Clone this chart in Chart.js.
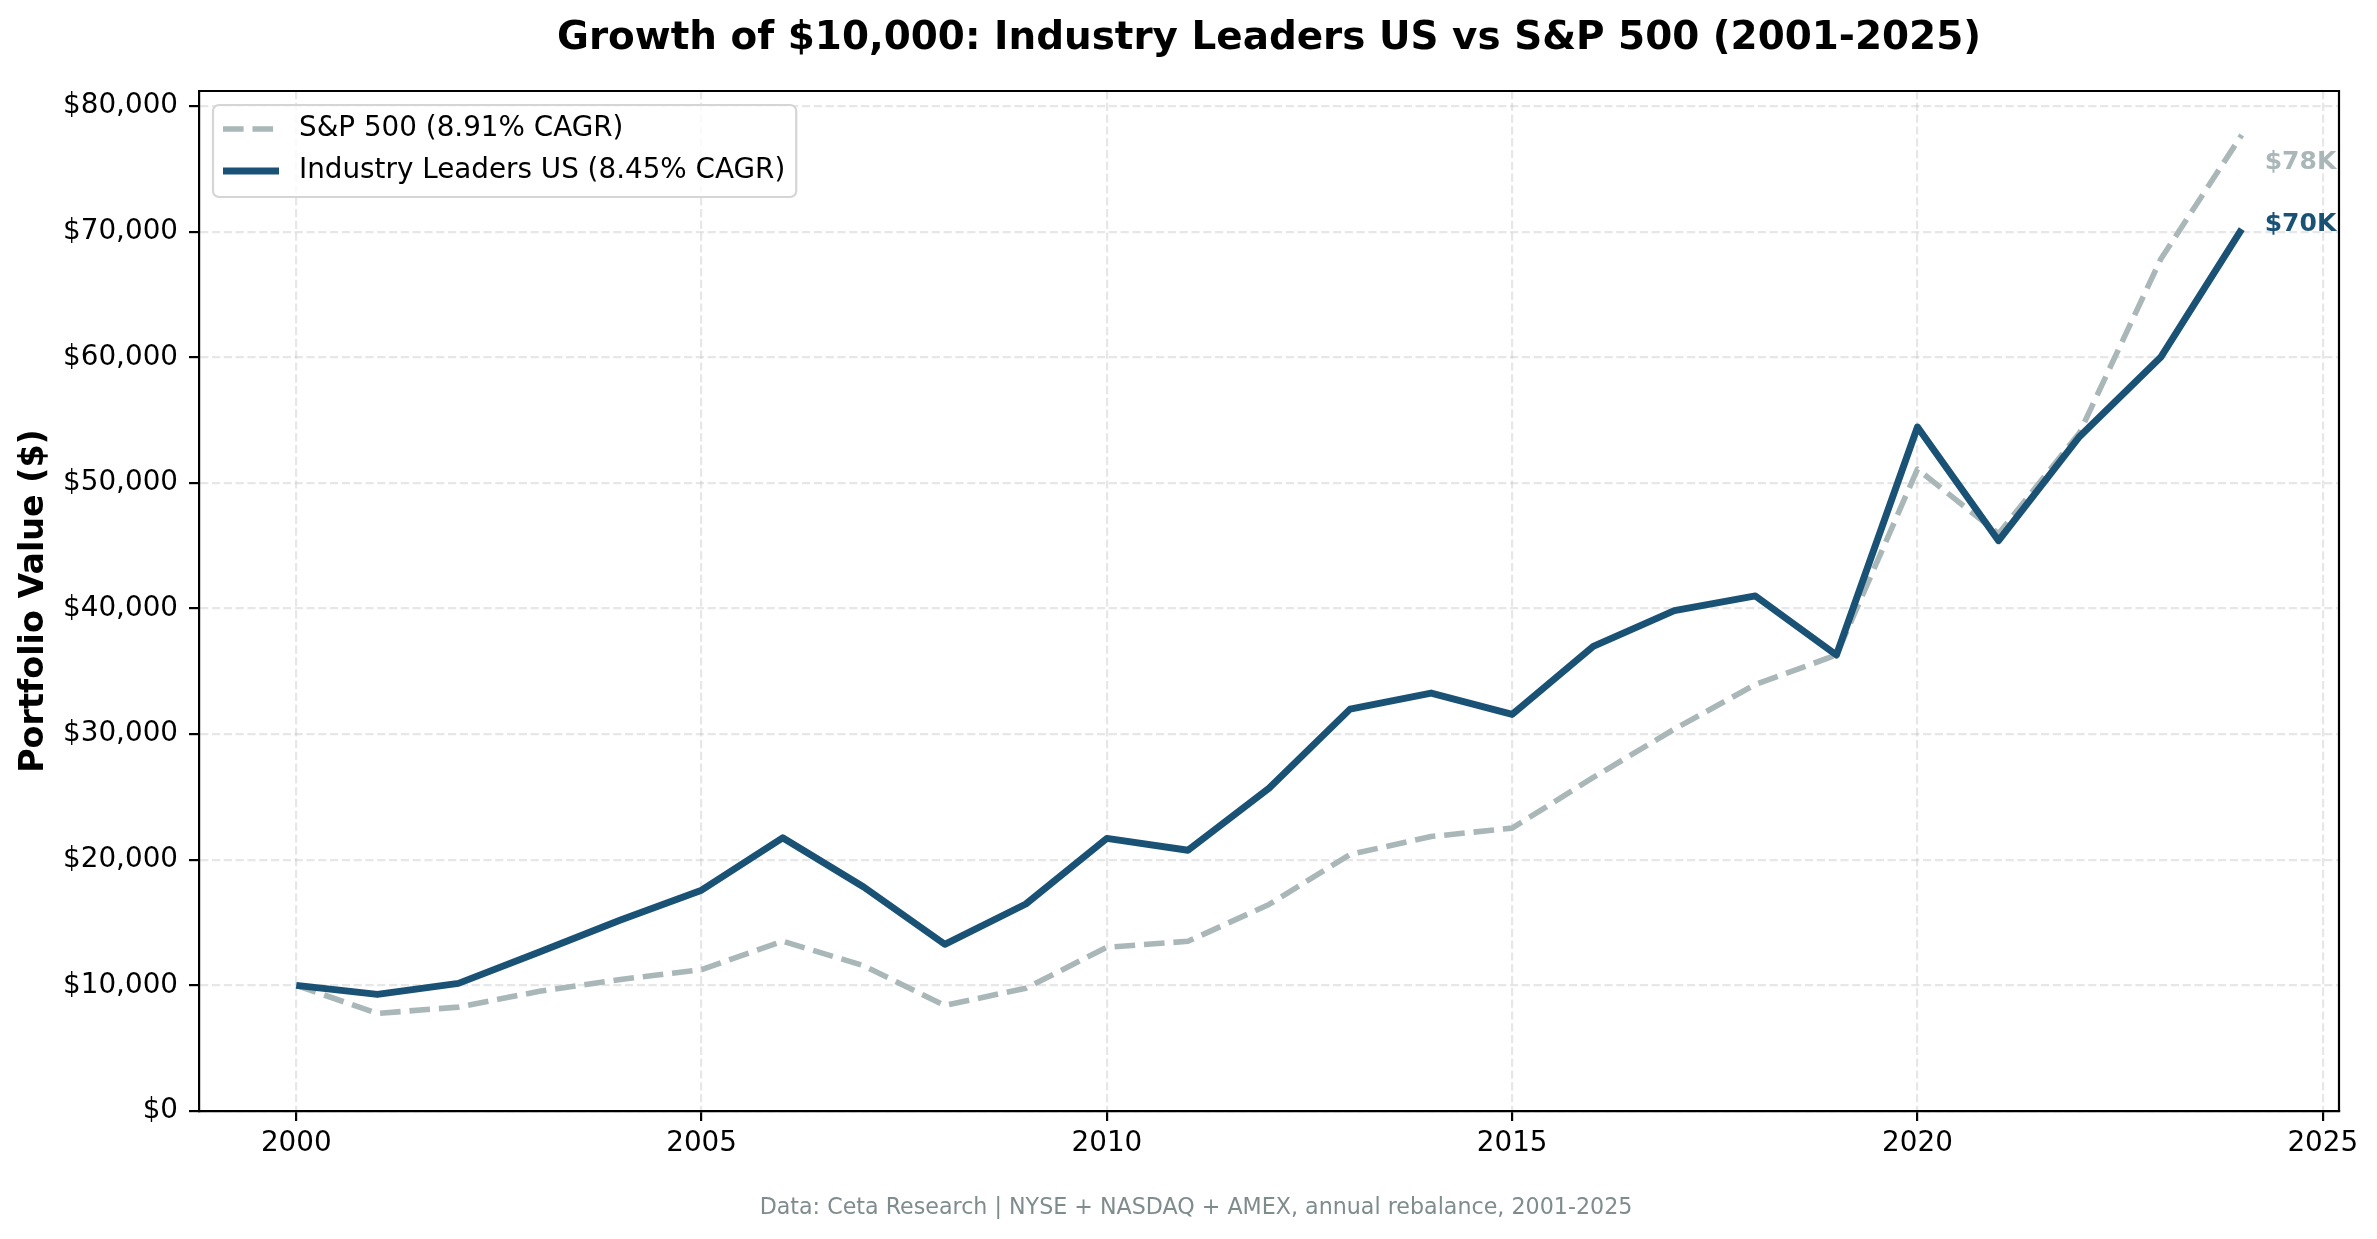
<!DOCTYPE html>
<html lang="en">

<head>
    <meta charset="UTF-8">
    <title>Growth of $10,000</title>
    <style>
        body {
            margin: 0;
            background: #ffffff;
        }

        #wrap {
            width: 2377px;
            height: 1239px;
        }
    </style>
    <script src="https://cdn.jsdelivr.net/npm/chart.js"></script>
</head>

<body>
    <div id="wrap"><canvas id="growth"></canvas></div>

    <script>
        // Years and portfolio values
        const years = [2000, 2001, 2002, 2003, 2004, 2005, 2006, 2007, 2008, 2009, 2010, 2011, 2012,
            2013, 2014, 2015, 2016, 2017, 2018, 2019, 2020, 2021, 2022, 2023, 2024];
        const leaders = [10000, 9280, 10160, 12650, 15200, 17580, 21750, 17830, 13270, 16480, 21700, 20760, 25690,
            31990, 33270, 31570, 36980, 39840, 41000, 36300, 54450, 45400, 53700, 60000, 70200];
        const sp500 = [10000, 7770, 8270, 9530, 10470, 11260, 13520, 11570, 8400, 9780, 13030, 13510, 16440,
            20420, 21850, 22520, 26550, 30400, 33950, 36300, 51100, 45950, 54000, 67800, 77700];

        const seriesNames = ["S&P 500 (8.91% CAGR)", "Industry Leaders US (8.45% CAGR)"];
        const xTicks = [2000, 2005, 2010, 2015, 2020, 2025];
        const yTicks = [0, 10000, 20000, 30000, 40000, 50000, 60000, 70000, 80000];

        const chartTitle = "Growth of $10,000: Industry Leaders US vs S&P 500 (2001-2025)";
        const footnote = "Data: Ceta Research | NYSE + NASDAQ + AMEX, annual rebalance, 2001-2025";

        const FONT = "'DejaVu Sans', 'Liberation Sans', sans-serif";
        const BLUE = "#1a5276";
        const GREY = "#aab7b8";

        function toPoints(vals) {
            return years.map((yr, i) => ({ x: yr, y: vals[i] }));
        }

        // legend box, end labels, full frame and footnote
        const extras = {
            id: "extras",
            afterDatasetsDraw(chart) {
                const { ctx, chartArea } = chart;
                const xs = chart.scales.x;
                const ys = chart.scales.y;

                // end labels
                ctx.save();
                ctx.font = "bold 25px " + FONT;
                ctx.textAlign = "left";
                ctx.textBaseline = "middle";
                const lastX = xs.getPixelForValue(years[years.length - 1]) + 23;
                ctx.fillStyle = GREY;
                ctx.fillText("$" + Math.round(sp500[sp500.length - 1] / 1000) + "K", lastX,
                    ys.getPixelForValue(sp500[sp500.length - 1]) + 28);
                ctx.fillStyle = BLUE;
                ctx.fillText("$" + Math.round(leaders[leaders.length - 1] / 1000) + "K", lastX,
                    ys.getPixelForValue(leaders[leaders.length - 1]) - 5);
                ctx.restore();

                // legend
                ctx.save();
                ctx.font = "27.8px " + FONT;
                const pad = 10, handle = 56, gap = 20, rowH = 42;
                const textW = Math.max(...seriesNames.map(t => ctx.measureText(t).width));
                const bx = chartArea.left + 14;
                const by = chartArea.top + 14;
                const bw = pad + handle + gap + textW + pad + 1;
                const bh = 92;
                ctx.beginPath();
                ctx.roundRect(bx, by, bw, bh, 6);
                ctx.fillStyle = "rgba(255,255,255,0.8)";
                ctx.fill();
                ctx.strokeStyle = "#d5d5d5";
                ctx.lineWidth = 2.2;
                ctx.stroke();

                const styles = [
                    { color: GREY, width: 5.6, dash: [20.6, 8.9] },
                    { color: BLUE, width: 6.9, dash: [] }
                ];
                seriesNames.forEach((name, i) => {
                    const cy = by + 24 + i * rowH;
                    ctx.beginPath();
                    ctx.setLineDash(styles[i].dash);
                    ctx.strokeStyle = styles[i].color;
                    ctx.lineWidth = styles[i].width;
                    ctx.lineCap = "butt";
                    ctx.moveTo(bx + pad, cy);
                    ctx.lineTo(bx + pad + handle, cy);
                    ctx.stroke();
                    ctx.setLineDash([]);
                    ctx.fillStyle = "#000000";
                    ctx.textAlign = "left";
                    ctx.textBaseline = "middle";
                    ctx.fillText(name, bx + pad + handle + gap, cy);
                });
                ctx.restore();
            },
            afterDraw(chart) {
                const { ctx, chartArea } = chart;
                ctx.save();
                // top and right spines
                ctx.strokeStyle = "#000000";
                ctx.lineWidth = 2.2;
                ctx.beginPath();
                ctx.moveTo(chartArea.left, chartArea.top);
                ctx.lineTo(chartArea.right, chartArea.top);
                ctx.lineTo(chartArea.right, chartArea.bottom);
                ctx.stroke();

                ctx.font = "22.2px " + FONT;
                ctx.fillStyle = "#7f8c8d";
                ctx.textAlign = "center";
                ctx.textBaseline = "middle";
                ctx.fillText(footnote, 1196, 1208);
                ctx.restore();
            }
        };

        const gridOpts = {
            color: "rgba(176,176,176,0.3)",
            lineWidth: 2.2,
            drawTicks: true,
            tickLength: 10,
            tickColor: "#000000",
            tickWidth: 2.2
        };
        const borderOpts = { color: "#000000", width: 2.2, dash: [8.2, 3.6] };

        new Chart(document.getElementById("growth"), {
            type: "line",
            data: {
                datasets: [
                    {
                        label: seriesNames[0],
                        data: toPoints(sp500),
                        borderColor: GREY,
                        borderWidth: 5.6,
                        borderDash: [20.6, 8.9],
                        borderJoinStyle: "round",
                        pointRadius: 0,
                        tension: 0,
                        order: 1
                    },
                    {
                        label: seriesNames[1],
                        data: toPoints(leaders),
                        borderColor: BLUE,
                        borderWidth: 6.9,
                        borderJoinStyle: "round",
                        pointRadius: 0,
                        tension: 0,
                        order: 0
                    }
                ]
            },
            options: {
                responsive: true,
                maintainAspectRatio: false,
                devicePixelRatio: 1,
                animation: false,
                events: [],
                layout: { padding: { top: 0, right: 38, bottom: 0, left: 0 } },
                plugins: {
                    legend: { display: false },
                    tooltip: { enabled: false },
                    title: {
                        display: true,
                        fullSize: false,
                        text: chartTitle,
                        color: "#000000",
                        font: { family: FONT, size: 38.9, weight: "bold" },
                        padding: { top: 16, bottom: 28.3 }
                    }
                },
                scales: {
                    x: {
                        type: "linear",
                        min: 1998.8,
                        max: 2025.2,
                        afterBuildTicks: scale => {
                            scale.ticks = xTicks.map(v => ({ value: v }));
                        },
                        afterFit: scale => {
                            scale.height = 128;
                            scale.paddingLeft = 0;
                            scale.paddingRight = 0;
                        },
                        ticks: {
                            color: "#000000",
                            padding: 6,
                            maxRotation: 0,
                            font: { family: FONT, size: 27.8 },
                            callback: v => String(v)
                        },
                        grid: gridOpts,
                        border: borderOpts
                    },
                    y: {
                        type: "linear",
                        min: 0,
                        max: 81200,
                        afterBuildTicks: scale => {
                            scale.ticks = yTicks.map(v => ({ value: v }));
                        },
                        afterFit: scale => {
                            scale.width = 199;
                            scale.paddingTop = 0;
                            scale.paddingBottom = 0;
                        },
                        ticks: {
                            color: "#000000",
                            padding: 11,
                            font: { family: FONT, size: 27.8 },
                            callback: v => "$" + Number(v).toLocaleString("en-US")
                        },
                        title: {
                            display: true,
                            text: "Portfolio Value ($)",
                            color: "#000000",
                            font: { family: FONT, size: 33.3, weight: "bold" },
                            padding: { top: 14, bottom: 0 }
                        },
                        grid: gridOpts,
                        border: borderOpts
                    }
                }
            },
            plugins: [extras]
        });
    </script>
</body>

</html>
